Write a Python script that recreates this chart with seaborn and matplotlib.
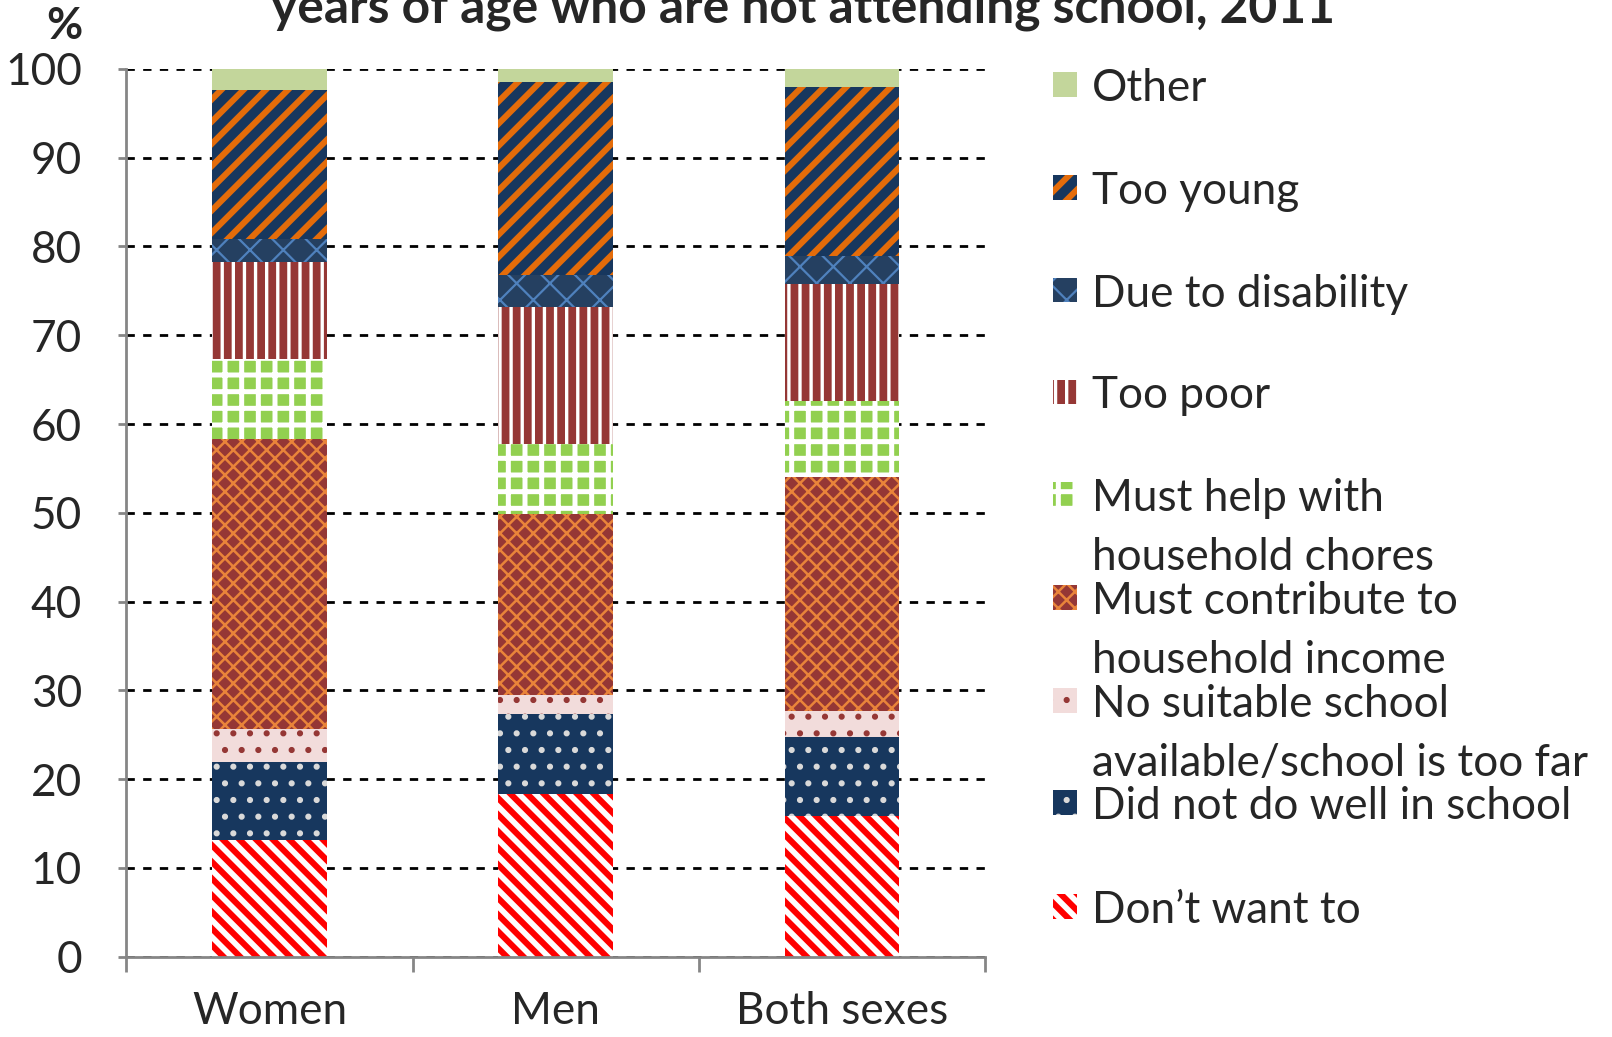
import numpy as np
import matplotlib
matplotlib.use("Agg")
import matplotlib.pyplot as plt
from matplotlib.patches import Rectangle
import seaborn as sns

# ---- data (percent of each group) ----
groups = ["Women", "Men", "Both sexes"]
dont_want = [13.2, 18.3, 15.8]
not_well = [8.7, 9.0, 8.9]
no_school = [3.8, 2.2, 3.0]
contribute = [32.6, 20.4, 26.3]
chores = [9.0, 7.9, 8.6]
too_poor = [11.0, 15.4, 13.2]
disability = [2.5, 3.6, 3.1]
too_young = [16.8, 21.7, 19.1]
other = [2.4, 1.5, 2.0]

labels = ["Don\u2019t want to", "Did not do well in school",
          "No suitable school\navailable/school is too far",
          "Must contribute to\nhousehold income",
          "Must help with\nhousehold chores",
          "Too poor", "Due to disability", "Too young", "Other"]
layers = [dont_want, not_well, no_school, contribute, chores,
          too_poor, disability, too_young, other]

# face colour, hatch, hatch colour, hatch line width
styles = [
    ("white", "\\\\\\\\", "#FF0000", 2.2),
    ("#17375E", "..", "#D9D9D9", 1.0),
    ("#F2DCDB", "..", "#953735", 1.0),
    ("#953735", "xxxx", "#E9843A", 0.9),
    ("#92D050", "++", "white", 1.8),
    ("white", "|||", "#953735", 2.8),
    ("#254061", "xx", "#4F81BD", 0.8),
    ("#17375E", "///", "#E46C0A", 2.2),
    ("#C3D69B", "", "#C3D69B", 1.0),
]

sns.set_theme(style="white")
plt.rcParams["font.family"] = ["Lato", "DejaVu Sans"]
FS = 15.9

# positions below are measured on a 1568 x 1008 view of the reference
W, H = 1568, 1008
fig = plt.figure(figsize=(1612 / 200, 1037 / 200), dpi=200)
ax = fig.add_axes([123 / W, 1 - 930 / H, 835 / W, 863 / H])

bottom = np.zeros(len(groups))
for vals, (face, hatch, hcol, hlw) in zip(layers, styles):
    with plt.rc_context({"hatch.linewidth": hlw}):
        sns.barplot(x=groups, y=vals, bottom=bottom, color=face, saturation=1,
                    width=0.4, errorbar=None, ax=ax, edgecolor=hcol,
                    linewidth=0, hatch=hatch or None)
    for p in ax.patches[-len(groups):]:
        if hasattr(p, "set_hatch_linewidth"):
            p.set_hatch_linewidth(hlw)
    bottom += np.array(vals)

ax.set_ylim(0, 100)
ax.set_xlim(-0.5, 2.5)
ax.set_yticks(range(0, 101, 10))
ax.yaxis.grid(True, color="black", linestyle=(0, (3, 3)), linewidth=1.0)
ax.xaxis.grid(False)
ax.set_axisbelow(True)
for s in ["top", "right"]:
    ax.spines[s].set_visible(False)
for s in ["left", "bottom"]:
    ax.spines[s].set_color("#868686")
    ax.spines[s].set_linewidth(1.0)

ax.set_xticks([-0.5, 0.5, 1.5, 2.5])
ax.set_xticklabels([])
ax.set_xticks([0, 1, 2], minor=True)
ax.set_xticklabels(groups, minor=True, fontsize=FS)
ax.tick_params(axis="x", which="major", direction="out", length=5.5,
               color="#868686", width=1.0, bottom=True)
ax.tick_params(axis="x", which="minor", length=0, pad=12.5, bottom=True)
ax.tick_params(axis="y", direction="out", length=3, color="#868686",
               width=1.0, pad=13, labelsize=FS, left=True)
ax.set_xlabel("")
ax.set_ylabel("")

fig.text(63 / W, 1 - 25 / H, "%", ha="center", va="center",
         fontsize=FS, fontweight="bold")
fig.text(781 / W, 1 - 22 / H, "years of age who are not attending school, 2011",
         ha="center", va="baseline", fontsize=17.9, fontweight="bold")

# legend drawn by hand, top entry first
leg_y = [82, 182, 282, 381, 481, 581, 681, 780, 881]
for yc, lab, (face, hatch, hcol, hlw) in zip(leg_y, labels[::-1], styles[::-1]):
    with plt.rc_context({"hatch.linewidth": hlw}):
        r = Rectangle((1024 / W, 1 - (yc + 12) / H), 24 / W, 24 / H,
                      transform=fig.transFigure, facecolor=face,
                      edgecolor=hcol, linewidth=0, hatch=hatch or None)
    if hasattr(r, "set_hatch_linewidth"):
        r.set_hatch_linewidth(hlw)
    fig.add_artist(r)
    for k, line in enumerate(lab.split("\n")):
        fig.text(1062 / W, 1 - (yc + 16 + 57 * k) / H, line, ha="left",
                 va="baseline", fontsize=FS)

fig.savefig("out.png", dpi=200)
